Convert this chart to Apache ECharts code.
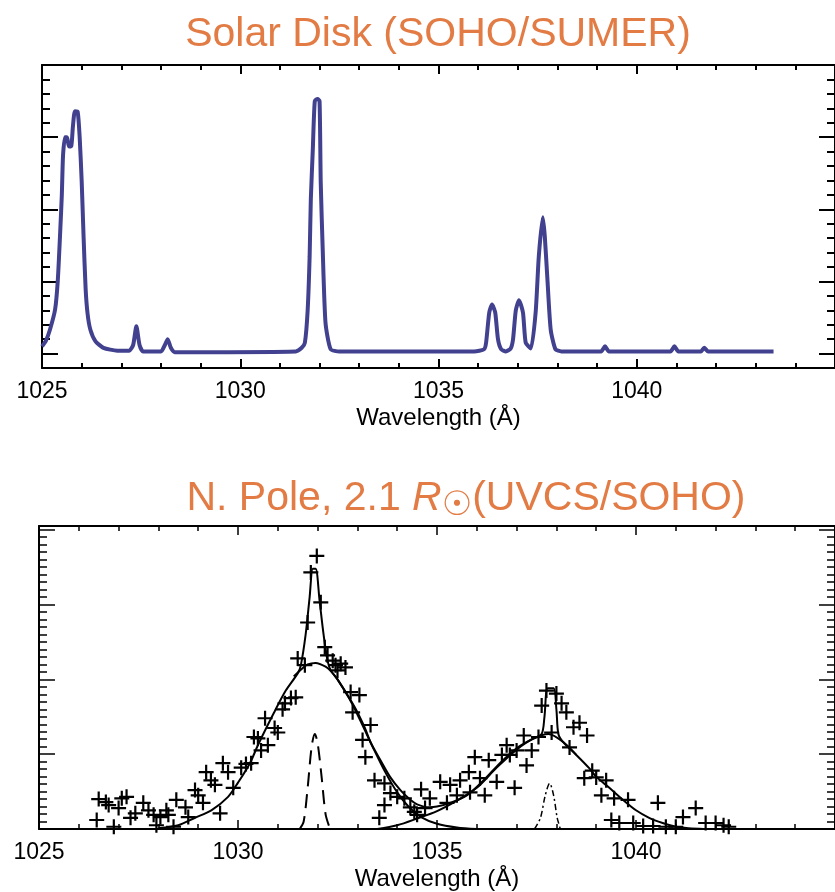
<!DOCTYPE html>
<html>
<head>
<meta charset="utf-8">
<title>O VI spectra: solar disk and north pole</title>
<script src="https://cdn.jsdelivr.net/npm/echarts@6.0.0/dist/echarts.min.js"></script>
<style>
  html, body { margin: 0; padding: 0; background: #fff; }
  #main { width: 835px; height: 892px; }
</style>
</head>
<body>
<div id="main"></div>
<script>
// tick labels / tick positions (Angstrom and arbitrary intensity units)
const waveLabels = [1025, 1030, 1035, 1040];
const waveMajorTicks = [1025, 1030, 1035, 1040, 1045];
const yMajorTicks = [0, 1, 2, 3, 4];

// SOHO/SUMER disk spectrum, [wavelength, intensity]
const sumerSpectrum = [
  [1025.00, 0.10], [1025.10, 0.18], [1025.20, 0.33], [1025.33, 0.61], [1025.40, 1.03],
  [1025.46, 1.70], [1025.50, 2.20], [1025.53, 2.74], [1025.58, 3.00], [1025.63, 3.00],
  [1025.68, 2.87], [1025.74, 2.88], [1025.78, 3.15], [1025.83, 3.36], [1025.90, 3.35],
  [1025.95, 3.00], [1026.00, 2.40], [1026.05, 1.60], [1026.10, 0.90], [1026.15, 0.55],
  [1026.22, 0.33], [1026.35, 0.17], [1026.55, 0.08], [1026.90, 0.04], [1027.20, 0.04],
  [1027.30, 0.12], [1027.38, 0.38], [1027.46, 0.12], [1027.55, 0.03], [1028.00, 0.03],
  [1028.10, 0.12], [1028.17, 0.20], [1028.25, 0.08], [1028.35, 0.02], [1031.40, 0.03],
  [1031.55, 0.08], [1031.63, 0.15], [1031.70, 0.60], [1031.75, 1.35], [1031.78, 2.14],
  [1031.83, 2.83], [1031.88, 3.50], [1031.95, 3.53], [1032.00, 3.50], [1032.03, 2.37],
  [1032.08, 1.44], [1032.15, 0.43], [1032.28, 0.06], [1032.50, 0.03], [1035.90, 0.03],
  [1036.15, 0.06], [1036.20, 0.15], [1036.28, 0.57], [1036.35, 0.68], [1036.43, 0.57],
  [1036.50, 0.20], [1036.58, 0.06], [1036.70, 0.03], [1036.82, 0.07], [1036.88, 0.20],
  [1036.95, 0.60], [1037.03, 0.74], [1037.13, 0.57], [1037.20, 0.15], [1037.33, 0.07],
  [1037.45, 0.57], [1037.53, 1.35], [1037.63, 1.89], [1037.68, 1.63], [1037.75, 1.00],
  [1037.83, 0.33], [1037.95, 0.06], [1038.10, 0.03], [1039.10, 0.03], [1039.20, 0.10],
  [1039.30, 0.03], [1040.85, 0.03], [1040.95, 0.10], [1041.05, 0.03], [1041.62, 0.03],
  [1041.70, 0.08], [1041.80, 0.03], [1043.45, 0.03]
];

// UVCS data points (crosses)
const uvcsPoints = [
  [1026.45, 0.12], [1026.50, 0.40], [1026.68, 0.36], [1026.75, 0.32], [1026.88, 0.03],
  [1027.00, 0.28], [1027.08, 0.41], [1027.20, 0.43], [1027.30, 0.15], [1027.42, 0.21],
  [1027.62, 0.35], [1027.75, 0.25], [1027.88, 0.19], [1027.95, 0.05], [1028.05, 0.16],
  [1028.20, 0.25], [1028.25, 0.19], [1028.38, 0.03], [1028.45, 0.39], [1028.68, 0.29],
  [1028.75, 0.16], [1028.92, 0.52], [1029.00, 0.45], [1029.12, 0.35], [1029.20, 0.76],
  [1029.32, 0.65], [1029.42, 0.59], [1029.55, 0.21], [1029.62, 0.88], [1029.75, 0.76],
  [1029.88, 0.55], [1030.08, 0.82], [1030.20, 0.87], [1030.33, 0.88], [1030.40, 1.23],
  [1030.50, 1.21], [1030.58, 1.05], [1030.68, 1.48], [1030.75, 1.12], [1030.92, 1.35],
  [1031.00, 1.29], [1031.12, 1.60], [1031.18, 1.68], [1031.33, 1.75], [1031.45, 1.76],
  [1031.50, 2.28], [1031.68, 2.19], [1031.75, 2.76], [1031.83, 3.43], [1031.98, 3.65],
  [1032.08, 3.03], [1032.18, 2.43], [1032.25, 2.32], [1032.38, 2.25], [1032.45, 2.19],
  [1032.50, 2.12], [1032.58, 2.21], [1032.70, 2.16], [1032.83, 1.83], [1032.88, 1.56],
  [1033.05, 1.79], [1033.13, 1.19], [1033.20, 0.96], [1033.33, 1.39], [1033.43, 0.65],
  [1033.55, 0.15], [1033.68, 0.61], [1033.68, 0.32], [1033.83, 0.48], [1034.00, 0.43],
  [1034.18, 0.41], [1034.33, 0.29], [1034.43, 0.23], [1034.50, 0.19], [1034.60, 0.53],
  [1034.70, 0.28], [1034.82, 0.41], [1035.08, 0.63], [1035.25, 0.35], [1035.33, 0.59],
  [1035.50, 0.45], [1035.58, 0.65], [1035.80, 0.76], [1035.83, 0.49], [1035.95, 0.96],
  [1036.08, 0.68], [1036.20, 0.45], [1036.30, 0.92], [1036.50, 0.63], [1036.63, 0.99],
  [1036.75, 1.12], [1036.83, 0.99], [1036.95, 0.55], [1037.00, 1.05], [1037.18, 1.25],
  [1037.25, 0.85], [1037.38, 1.05], [1037.55, 1.23], [1037.63, 1.65], [1037.75, 1.85],
  [1037.88, 1.29], [1038.00, 1.81], [1038.13, 1.68], [1038.25, 1.56], [1038.33, 1.09],
  [1038.43, 1.36], [1038.58, 1.42], [1038.77, 1.25], [1038.70, 0.68], [1038.90, 0.78],
  [1039.00, 0.69], [1039.13, 0.45], [1039.25, 0.65], [1039.38, 0.12], [1039.45, 0.41],
  [1039.58, 0.08], [1039.80, 0.39], [1039.93, 0.08], [1040.18, 0.04], [1040.43, 0.04],
  [1040.55, 0.35], [1040.75, 0.03], [1041.00, 0.03], [1041.18, 0.16], [1041.50, 0.28],
  [1041.75, 0.08], [1042.00, 0.08], [1042.20, 0.05], [1042.33, 0.03]
];

// total fit (solid)
const fitTotal = [
  [1028.00, 0.01], [1028.50, 0.05], [1028.92, 0.15], [1029.33, 0.25], [1029.75, 0.43],
  [1030.00, 0.62], [1030.30, 0.88], [1030.50, 1.12], [1030.90, 1.55], [1031.20, 1.85],
  [1031.50, 2.08], [1031.58, 2.19], [1031.70, 2.60], [1031.80, 3.10], [1031.88, 3.48],
  [1031.95, 3.48], [1032.05, 3.05], [1032.15, 2.60], [1032.25, 2.25], [1032.33, 2.12],
  [1032.50, 2.00], [1032.93, 1.63], [1033.18, 1.36], [1033.33, 1.16], [1033.58, 0.92],
  [1033.83, 0.69], [1034.08, 0.52], [1034.33, 0.39], [1034.50, 0.33], [1034.80, 0.29],
  [1035.00, 0.30], [1035.33, 0.35], [1035.75, 0.45], [1036.17, 0.65], [1036.58, 0.88],
  [1037.00, 1.08], [1037.42, 1.21], [1037.63, 1.27], [1037.70, 1.50], [1037.78, 1.88],
  [1037.93, 1.88], [1038.00, 1.60], [1038.05, 1.27], [1038.17, 1.16], [1038.50, 0.99],
  [1038.83, 0.81], [1039.00, 0.70], [1039.33, 0.55], [1039.67, 0.39], [1040.00, 0.25],
  [1040.33, 0.15], [1040.67, 0.08], [1041.00, 0.03], [1041.33, 0.01], [1041.70, 0.00]
];

// broad components (solid)
const fitBroad1032 = [
  [1031.40, 2.04], [1031.60, 2.14], [1031.75, 2.20], [1031.95, 2.22], [1032.20, 2.17],
  [1032.35, 2.10], [1032.50, 2.00], [1032.80, 1.74], [1033.10, 1.42], [1033.40, 1.08],
  [1033.70, 0.76], [1034.00, 0.49], [1034.30, 0.29], [1034.60, 0.16], [1035.00, 0.07],
  [1035.50, 0.02], [1036.00, 0.00]
];
const fitBroad1038 = [
  [1033.50, 0.00], [1034.00, 0.05], [1034.50, 0.14], [1035.00, 0.24], [1035.50, 0.38],
  [1036.00, 0.55], [1036.50, 0.82], [1037.00, 1.06], [1037.40, 1.20], [1037.80, 1.27],
  [1038.20, 1.15], [1038.50, 0.99]
];

// narrow components
const fitNarrow1032 = [
  [1031.55, 0.00], [1031.65, 0.10], [1031.75, 0.55], [1031.85, 1.10], [1031.93, 1.27],
  [1032.00, 1.15], [1032.10, 0.70], [1032.20, 0.20], [1032.30, 0.02]
];
const fitNarrow1038 = [
  [1037.45, 0.00], [1037.60, 0.15], [1037.72, 0.45], [1037.83, 0.61], [1037.93, 0.45],
  [1038.02, 0.15], [1038.10, 0.00]
];

const FONT = '"Liberation Sans", Arial, Helvetica, sans-serif';
const ORANGE = '#E27B44';

// four x axes per grid: bottom minor/major, top minor/major
function makeXAxes(gi, tickW) {
  const base = {
    gridIndex: gi, type: 'value', min: 1025, max: 1045,
    splitLine: { show: false }
  };
  return [
    Object.assign({}, base, {
      position: 'bottom', interval: 1,
      axisLine: { show: false, onZero: false },
      axisTick: { inside: true, length: 5, lineStyle: { color: '#000', width: tickW } },
      axisLabel: { show: false }
    }),
    Object.assign({}, base, {
      position: 'bottom', interval: 5,
      name: 'Wavelength (Å)', nameLocation: 'middle', nameGap: 38,
      nameTextStyle: { fontSize: 24, color: '#000', fontFamily: FONT },
      axisLine: { show: true, onZero: false, lineStyle: { color: '#000', width: 2 } },
      axisTick: { inside: true, length: 9, customValues: waveMajorTicks, lineStyle: { color: '#000', width: tickW } },
      axisLabel: {
        customValues: waveLabels, fontSize: 23, color: '#000', fontFamily: FONT, margin: 12,
        formatter: function (v) { return String(v); }
      }
    }),
    Object.assign({}, base, {
      position: 'top', interval: 1,
      axisLine: { show: false, onZero: false },
      axisTick: { inside: true, length: 5, lineStyle: { color: '#000', width: tickW } },
      axisLabel: { show: false }
    }),
    Object.assign({}, base, {
      position: 'top', interval: 5,
      axisLine: { show: true, onZero: false, lineStyle: { color: '#000', width: 2 } },
      axisTick: { inside: true, length: 9, customValues: waveMajorTicks, lineStyle: { color: '#000', width: tickW } },
      axisLabel: { show: false }
    })
  ];
}

// four y axes per grid: left minor/major, right minor/major
function makeYAxes(gi, min, max, minor, tickW) {
  const base = { gridIndex: gi, type: 'value', min: min, max: max, splitLine: { show: false } };
  const out = [];
  ['left', 'right'].forEach(function (pos) {
    out.push(Object.assign({}, base, {
      position: pos, interval: minor,
      axisLine: { show: false, onZero: false },
      axisTick: { inside: true, length: 8, lineStyle: { color: '#000', width: tickW } },
      axisLabel: { show: false }
    }));
    out.push(Object.assign({}, base, {
      position: pos, interval: 1,
      axisLine: { show: true, onZero: false, lineStyle: { color: '#000', width: 2 } },
      axisTick: { inside: true, length: 16, customValues: yMajorTicks, lineStyle: { color: '#000', width: tickW } },
      axisLabel: { show: false }
    }));
  });
  return out;
}

const chart = echarts.init(document.getElementById('main'));

const option = {
  animation: false,
  backgroundColor: '#fff',
  title: [
    {
      text: 'Solar Disk (SOHO/SUMER)',
      left: 438, top: 14, textAlign: 'center', padding: 0,
      textStyle: { fontSize: 41, fontWeight: 'normal', color: ORANGE, fontFamily: FONT }
    },
    {
      text: 'N. Pole, 2.1 {i|R}{s|☉}(UVCS/SOHO)',
      left: 466, top: 475, textAlign: 'center', padding: 0,
      textStyle: {
        fontSize: 41, fontWeight: 'normal', color: ORANGE, fontFamily: FONT,
        rich: {
          i: { fontSize: 41, fontStyle: 'italic', color: ORANGE, fontFamily: FONT },
          s: { fontSize: 34, color: ORANGE, fontFamily: '"DejaVu Sans", sans-serif', verticalAlign: 'bottom', padding: [14, 0, 0, 0] }
        }
      }
    }
  ],
  grid: [
    { left: 42, top: 65, width: 800, height: 303 },
    { left: 39, top: 526, width: 800, height: 304 }
  ],
  xAxis: makeXAxes(0, 2).concat(makeXAxes(1, 1.5)),
  yAxis: makeYAxes(0, -0.2, 4.0, 0.2, 2).concat(makeYAxes(1, 0, 4.05, 0.1, 1.5)),
  series: [
    {
      name: 'SUMER', type: 'line', xAxisIndex: 1, yAxisIndex: 1,
      data: sumerSpectrum, showSymbol: false, smooth: 0.2,
      lineStyle: { color: '#41418F', width: 4 }
    },
    {
      name: 'total fit', type: 'line', xAxisIndex: 5, yAxisIndex: 5,
      data: fitTotal, showSymbol: false, smooth: 0.3,
      lineStyle: { color: '#000', width: 2 }
    },
    {
      name: 'broad 1032', type: 'line', xAxisIndex: 5, yAxisIndex: 5,
      data: fitBroad1032, showSymbol: false, smooth: 0.3,
      lineStyle: { color: '#000', width: 2 }
    },
    {
      name: 'broad 1038', type: 'line', xAxisIndex: 5, yAxisIndex: 5,
      data: fitBroad1038, showSymbol: false, smooth: 0.3,
      lineStyle: { color: '#000', width: 2 }
    },
    {
      name: 'narrow 1032', type: 'line', xAxisIndex: 5, yAxisIndex: 5,
      data: fitNarrow1032, showSymbol: false, smooth: 0.3,
      lineStyle: { color: '#000', width: 2, type: [14, 8] }
    },
    {
      name: 'narrow 1038', type: 'line', xAxisIndex: 5, yAxisIndex: 5,
      data: fitNarrow1038, showSymbol: false, smooth: 0.3,
      lineStyle: { color: '#000', width: 1.5, type: [6, 3, 2, 3] }
    },
    {
      name: 'UVCS', type: 'scatter', xAxisIndex: 5, yAxisIndex: 5,
      data: uvcsPoints,
      symbol: 'path://M7,0 L7,14 M0,7 L14,7',
      symbolSize: 15,
      itemStyle: { color: 'none', borderColor: '#000', borderWidth: 2.2, opacity: 1 }
    }
  ]
};

chart.setOption(option);
</script>
</body>
</html>
